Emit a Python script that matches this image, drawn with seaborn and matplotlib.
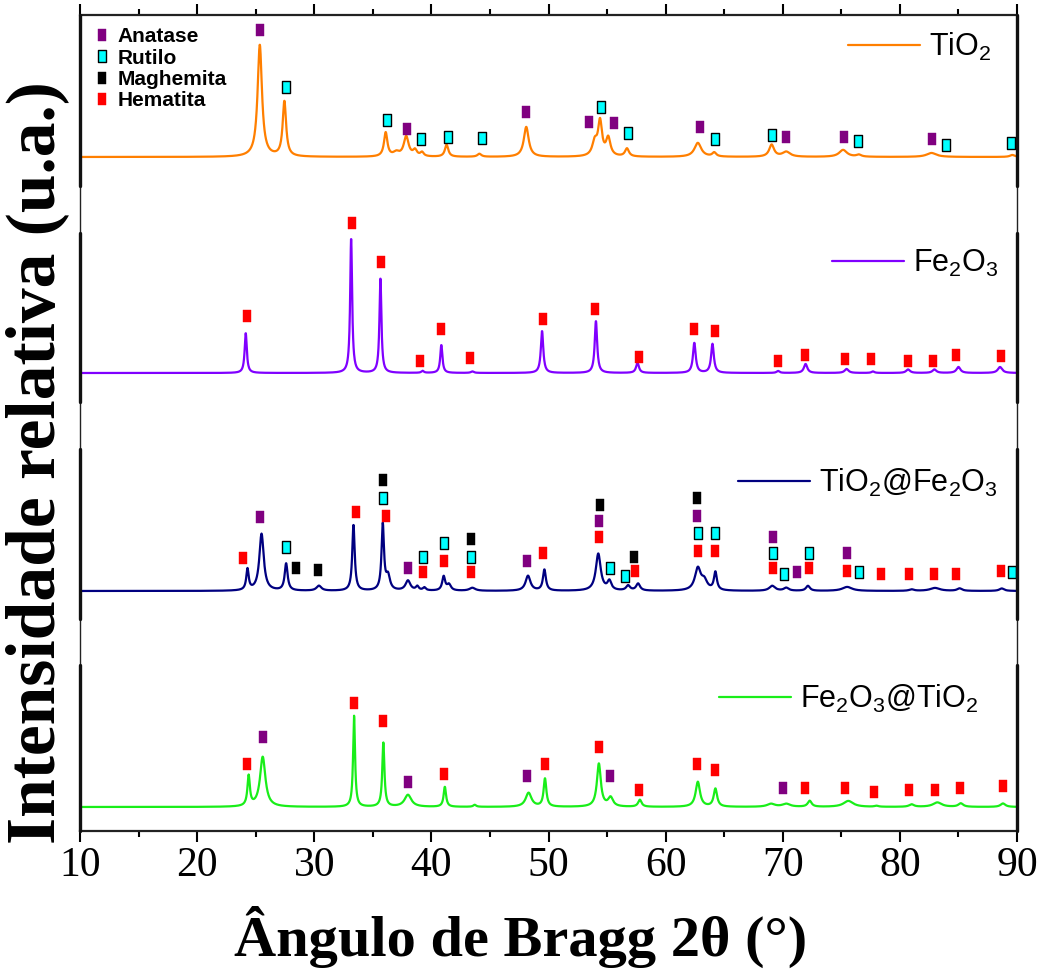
import numpy as np
import matplotlib
matplotlib.use("Agg")
import matplotlib.pyplot as plt
import seaborn as sns
from matplotlib.lines import Line2D
from matplotlib.path import Path

# ---------------- data ----------------
two_theta = np.arange(10.0, 90.0001, 0.02)

labels = ["TiO$_2$", "Fe$_2$O$_3$", "TiO$_2$@Fe$_2$O$_3$", "Fe$_2$O$_3$@TiO$_2$"]
offsets = [674, 458, 240, 24]
colors = ["#FF7F00", "#8000FF", "#000080", "#19EE19"]

# TiO2 peaks (position, height, fwhm)
tio2_pos = [25.35, 27.45, 36.1, 37.0, 37.85, 38.6, 39.2, 41.3, 44.1, 48.1, 53.95, 54.4, 55.1,
            56.7, 62.75, 64.15, 69.05, 70.3, 75.15, 76.5, 82.7, 89.6]
tio2_hgt = [112, 55, 24, 4, 20, 6, 4, 12, 3, 30, 14, 34, 18, 8, 14, 4, 12, 5, 7, 2, 4, 2]
tio2_fw = [0.45, 0.35, 0.35, 0.6, 0.5, 0.4, 0.35, 0.35, 0.4, 0.5, 0.5, 0.4, 0.45, 0.4, 0.7, 0.4,
           0.5, 0.8, 0.8, 0.5, 1.0, 0.5]

# Fe2O3 peaks
fe_pos = [24.15, 33.15, 35.65, 39.25, 40.85, 43.5, 49.45, 54.05, 57.6, 62.45, 64.0, 69.6, 71.95,
          75.45, 77.7, 80.7, 82.95, 85.0, 88.55]
fe_hgt = [40, 135, 95, 2, 28, 1.5, 42, 52, 10, 30, 29, 2, 9, 4, 1.5, 3.5, 3.5, 6, 6]
fe_fw = [0.22, 0.2, 0.2, 0.25, 0.22, 0.3, 0.25, 0.25, 0.3, 0.28, 0.28, 0.3, 0.35, 0.4, 0.3, 0.4,
         0.4, 0.4, 0.45]

# TiO2@Fe2O3 peaks
tf_pos = [24.3, 25.5, 27.6, 30.4, 33.35, 35.85, 36.3, 38.0, 38.8, 39.4, 41.05, 41.5, 43.5, 48.25,
          49.65, 54.25, 55.2, 56.8, 57.65, 62.75, 63.3, 64.25, 69.1, 70.3, 72.15, 75.5, 81.0,
          83.0, 85.1, 88.7]
tf_hgt = [21, 57, 27, 5, 66, 66, 14, 10, 4, 3, 14, 6, 3, 15, 21, 37, 9, 5, 7, 22, 9, 18, 5, 3,
          5, 4, 1.5, 3, 2.5, 2.5]
tf_fw = [0.25, 0.45, 0.3, 0.5, 0.25, 0.25, 0.4, 0.5, 0.3, 0.3, 0.3, 0.4, 0.6, 0.5, 0.3, 0.5, 0.4,
         0.4, 0.4, 0.6, 0.6, 0.3, 0.6, 0.5, 0.4, 1.0, 0.5, 1.0, 0.5, 0.5]

# Fe2O3@TiO2 peaks
ft_pos = [24.4, 25.6, 33.4, 35.9, 38.0, 41.15, 43.7, 48.3, 49.7, 54.3, 55.3, 57.8, 62.75, 64.25,
          69.0, 70.3, 72.3, 75.6, 78.0, 81.0, 83.2, 85.2, 88.8]
ft_hgt = [30, 50, 91, 64, 12, 20, 2, 14, 28, 43, 9, 7, 25, 18, 3, 3, 6, 6, 1, 2.5, 4.5, 3.5, 3.5]
ft_fw = [0.25, 0.55, 0.2, 0.22, 0.7, 0.25, 0.3, 0.6, 0.28, 0.4, 0.5, 0.35, 0.45, 0.35, 0.8, 0.8,
         0.4, 1.0, 0.4, 0.5, 0.9, 0.5, 0.5]

# phase markers (position, height above baseline, phase code)
tio2_mk_pos = [25.4, 27.55, 36.25, 37.9, 39.1, 41.4, 44.35, 48.1, 53.5, 54.45, 55.55, 56.8, 62.9,
               64.2, 69.1, 70.3, 75.2, 76.4, 82.75, 83.95, 89.45]
tio2_mk_hgt = [127, 70, 37, 28, 18, 20, 19, 45, 35, 50, 34, 24, 30, 18, 22, 20, 20, 16, 18, 12, 14]
tio2_mk_ph = ["A", "R", "R", "A", "R", "R", "R", "A", "A", "R", "A", "R", "A", "R", "R", "A", "A",
              "R", "A", "R", "R"]

fe_mk_pos = [24.25, 33.2, 35.7, 39.0, 40.8, 43.3, 49.5, 54.0, 57.7, 62.4, 64.2, 69.6, 71.9, 75.3,
             77.5, 80.7, 82.8, 84.8, 88.6]
fe_mk_hgt = [57, 150, 111, 12, 44, 15, 54, 64, 16, 44, 42, 12, 18, 14, 14, 12, 12, 18, 17]
fe_mk_ph = ["H"] * 19

tf_mk_pos = [23.9, 25.4, 27.6, 28.4, 30.35, 33.55, 35.9, 35.9, 36.1, 38.0, 39.25, 39.25, 41.05,
             41.05, 43.4, 43.4, 43.4, 48.2, 49.5, 54.4, 54.35, 54.35, 55.25, 56.5, 57.3, 57.4,
             62.7, 62.7, 62.8, 62.8, 64.25, 64.25, 69.15, 69.15, 69.15, 70.1, 71.2, 72.2, 72.2,
             75.5, 75.5, 76.5, 78.4, 80.8, 82.9, 84.75, 88.6, 89.6]
tf_mk_hgt = [33, 74, 44, 23, 21, 79, 111, 93, 75, 23, 34, 19, 48, 30, 52, 34, 19, 30, 38, 86, 70,
             54, 23, 15, 34, 20, 93, 75, 58, 40, 58, 40, 54, 38, 23, 17, 19, 38, 23, 38, 20, 19,
             17, 17, 17, 17, 20, 19]
tf_mk_ph = ["H", "A", "R", "M", "M", "H", "M", "R", "H", "A", "R", "H", "R", "H", "M", "R", "H",
            "A", "H", "M", "A", "H", "R", "R", "M", "H", "M", "A", "R", "H", "R", "H", "A", "R",
            "H", "R", "A", "R", "H", "A", "H", "R", "H", "H", "H", "H", "H", "R"]

ft_mk_pos = [24.3, 25.6, 33.4, 35.9, 38.0, 41.1, 48.2, 49.7, 54.3, 55.25, 57.7, 62.65, 64.25,
             70.0, 71.9, 75.3, 77.8, 80.8, 83.0, 85.1, 88.8]
ft_mk_hgt = [43, 70, 104, 86, 25, 33, 31, 43, 60, 31, 17, 43, 37, 19, 19, 19, 15, 17, 17, 19, 21]
ft_mk_ph = ["H", "A", "H", "H", "A", "H", "A", "H", "H", "A", "H", "H", "H", "A", "H", "H", "H",
            "H", "H", "H", "H"]

phase_codes = ["A", "R", "M", "H"]
phase_names = ["Anatase", "Rutilo", "Maghemita", "Hematita"]
phase_face = ["#800080", "#00FFFF", "#000000", "#FF0000"]
phase_edge = ["#800080", "#000000", "#000000", "#FF0000"]

xticks = [10, 20, 30, 40, 50, 60, 70, 80, 90]

# ---------------- style ----------------
sns.set_style("ticks")
plt.rcParams["font.family"] = ["Liberation Sans", "DejaVu Sans"]
plt.rcParams["mathtext.fontset"] = "custom"
plt.rcParams["mathtext.rm"] = "Liberation Sans"
plt.rcParams["mathtext.it"] = "Liberation Sans:italic"
plt.rcParams["mathtext.bf"] = "Liberation Sans:bold"
plt.rcParams["text.color"] = "black"
plt.rcParams["axes.labelcolor"] = "black"
plt.rcParams["xtick.color"] = "black"
plt.rcParams["ytick.color"] = "black"

W, H = 1047, 972
fig = plt.figure(figsize=(W / 100, H / 100), dpi=100)
ax = fig.add_axes([80 / W, (H - 831) / H, (1017 - 80) / W, (831 - 15) / H])


def profile(pos, hgt, fw):
    y = np.zeros_like(two_theta)
    for p, h, f in zip(pos, hgt, fw):
        g = f / 2.0
        y += h / (1.0 + ((two_theta - p) / g) ** 2)
    return y


peak_sets = [(tio2_pos, tio2_hgt, tio2_fw), (fe_pos, fe_hgt, fe_fw),
             (tf_pos, tf_hgt, tf_fw), (ft_pos, ft_hgt, ft_fw)]
marker_sets = [(tio2_mk_pos, tio2_mk_hgt, tio2_mk_ph), (fe_mk_pos, fe_mk_hgt, fe_mk_ph),
               (tf_mk_pos, tf_mk_hgt, tf_mk_ph), (ft_mk_pos, ft_mk_hgt, ft_mk_ph)]

rect = Path([(-0.4, -0.5), (0.4, -0.5), (0.4, 0.5), (-0.4, 0.5), (-0.4, -0.5)],
            [Path.MOVETO, Path.LINETO, Path.LINETO, Path.LINETO, Path.CLOSEPOLY])

for (pos, hgt, fw), off, col in zip(peak_sets, offsets, colors):
    sns.lineplot(x=two_theta, y=profile(pos, hgt, fw) + off, color=col, lw=1.6,
                 estimator=None, sort=False, ax=ax)

for (mpos, mhgt, mph), off in zip(marker_sets, offsets):
    mpos = np.array(mpos)
    mhgt = np.array(mhgt)
    mph = np.array(mph)
    for code, fc, ec in zip(phase_codes, phase_face, phase_edge):
        sel = mph == code
        if sel.any():
            ax.plot(mpos[sel], mhgt[sel] + off, ls="", marker=rect, ms=8, mfc=fc, mec=ec,
                    mew=1.0 if code == "R" else 0.3, clip_on=False, zorder=5)

ax.set_xlim(10, 90)
ax.set_ylim(0, 816)
ax.set_xticks(xticks)
ax.set_xticks(np.arange(15, 90, 10), minor=True)
ax.set_xticklabels([str(t) for t in xticks], fontsize=30, family="Liberation Serif")
ax.set_yticks([])
ax.tick_params(axis="x", which="major", direction="out", length=8, width=1.5, pad=3,
               top=True, bottom=True, labeltop=False)
ax.tick_params(axis="x", which="minor", direction="out", length=4.5, width=1.5,
               top=True, bottom=True)
ax.set_xlabel("")
ax.set_ylabel("")
for side in ["left", "right"]:
    ax.spines[side].set_linewidth(1.0)
    ax.spines[side].set_color("#222222")
for side in ["top", "bottom"]:
    ax.spines[side].set_linewidth(1.6)
    ax.spines[side].set_color("#222222")

# thicker spine segments for each stacked panel
seg_px = [(15, 186), (233, 402), (449, 619), (665, 831)]
for x in (10, 90):
    for top_px, bot_px in seg_px:
        ax.axvline(x, ymin=(831 - bot_px) / 816, ymax=(831 - top_px) / 816, color="#111111",
                   lw=2.4, clip_on=False, zorder=6)

# sample legends
leg_pos = [(848, 47), (832, 263), (738, 483), (719, 699)]
for lab, col, (px, py) in zip(labels, colors, leg_pos):
    lg = ax.legend(handles=[Line2D([], [], color=col, lw=1.6)], labels=[lab], loc="center left",
                   bbox_to_anchor=(px / W, 1 - py / H), bbox_transform=fig.transFigure,
                   frameon=False, borderpad=0, borderaxespad=0, handlelength=2.35,
                   handletextpad=0.3, prop={"family": "Liberation Sans", "size": 22})
    ax.add_artist(lg)

# phase legend
ph_handles = [Line2D([], [], ls="", marker=rect, ms=8, mfc=fc, mec=ec,
                     mew=1.0 if c == "R" else 0.3)
              for c, fc, ec in zip(phase_codes, phase_face, phase_edge)]
ax.legend(handles=ph_handles, labels=phase_names, loc="upper left",
          bbox_to_anchor=(94 / W, 1 - 27 / H), bbox_transform=fig.transFigure,
          frameon=False, borderpad=0, borderaxespad=0, handlelength=0.8, handletextpad=0.35,
          labelspacing=0.12, prop={"family": "Liberation Sans", "weight": "bold", "size": 15})

fig.text(37 / W, 1 - 463 / H, "Intensidade relativa (u.a.)", rotation=90, ha="center",
         va="center", fontsize=50, fontweight="bold", family="Liberation Serif")
fig.text(521 / W, 1 - 937 / H, "Ângulo de Bragg 2θ (°)", ha="center", va="center",
         fontsize=42, fontweight="bold", family="Liberation Serif")

fig.savefig("out.png", dpi=100)
